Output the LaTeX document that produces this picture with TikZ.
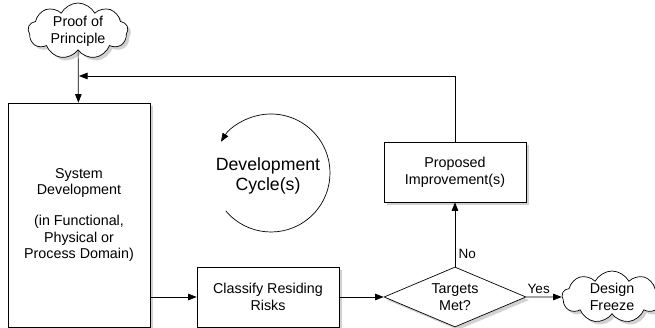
\documentclass[tikz,border=0pt]{standalone}
\usepackage{fontspec}
\setmainfont{Liberation Sans}
\usetikzlibrary{arrows.meta,shapes.geometric,shapes.symbols,shadows}

\begin{document}
\begin{tikzpicture}[x=1pt,y=1pt,line width=0.7pt,
    >={Triangle[length=8.5pt,width=6.5pt]},
    every node/.style={font=\fontsize{14.3}{16.7}\selectfont,align=center},
    shade/.style={drop shadow={opacity=0.3,fill=black!60,shadow xshift=3pt,shadow yshift=-3pt}},
    block/.style={draw,fill=white,minimum width=142pt,minimum height=60pt,shade},
    puff/.style={draw,fill=white,cloud,cloud puffs=9,cloud puff arc=125,
      cloud ignores aspect,minimum width=100pt,minimum height=52pt,inner sep=0pt,shade},
    decide/.style={draw,fill=white,diamond,aspect=2.37,minimum width=142pt,
      minimum height=60pt,inner sep=0pt,shade},
    tag/.style={font=\fontsize{13.5}{16}\selectfont}]
  \useasboundingbox (0,0) rectangle (655,328);

  % start and end clouds
  \node[puff] (proof) at (78,297) {Proof of\\Principle};
  \node[puff] (freeze) at (612,31) {Design\\Freeze};

  % main chain
  \node[block,minimum width=142pt,minimum height=224pt] (sysdev) at (79,113)
    {System\\Development\\[14pt](in Functional,\\Physical or\\Process Domain)};
  \node[block] (risks) at (268,31) {Classify Residing\\Risks};
  \node[decide] (targets) at (455,31) {Targets\\Met?};
  \node[block] (improve) at (455,156) {Proposed\\Improvement(s)};

  \coordinate (join) at (79,252);

  \draw[->] (proof) -- (sysdev);
  \draw[->] (improve.north) |- (join);
  \draw[->] (sysdev.east |- risks) -- (risks);
  \draw[->] (risks) -- (targets);
  \draw[->] (targets) -- node[tag,pos=0.2,right] {No} (improve);
  \draw[->] (targets) -- node[tag,pos=0.35,above] {Yes} (freeze);

  % the cycle in the middle
  \node[font=\fontsize{17.7}{19.5}\selectfont] (cycle) at (268,152) {Development\\Cycle(s)};
  \draw[->] (271,155) ++(-140:59) arc[start angle=-140,end angle=148,radius=59pt];
\end{tikzpicture}
\end{document}
